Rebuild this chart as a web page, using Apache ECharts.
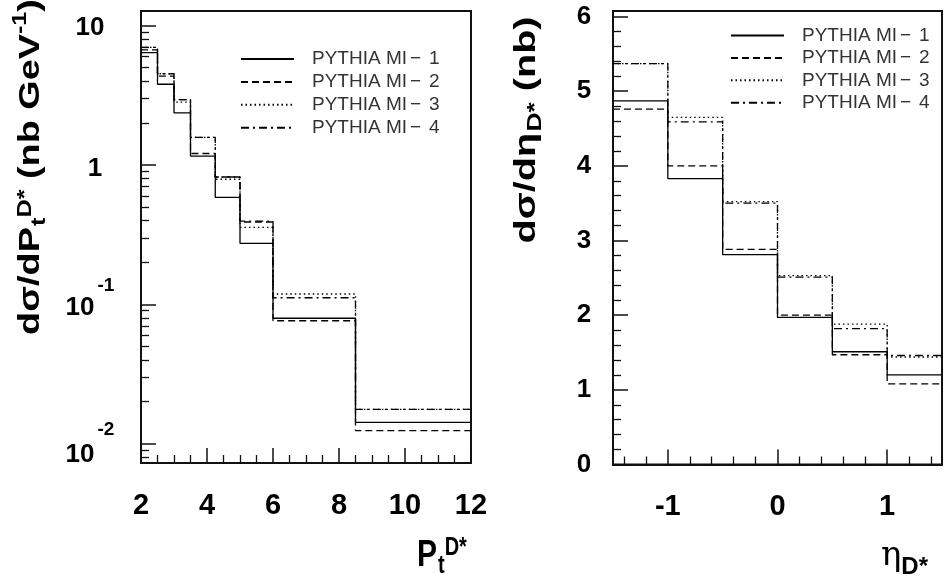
<!DOCTYPE html>
<html><head><meta charset="utf-8">
<script src="https://cdn.jsdelivr.net/npm/echarts@6/dist/echarts.min.js"></script>
<style>html,body{margin:0;padding:0;background:#fff}#c{width:946px;height:586px}</style>
</head><body><div id="c"></div>
<script>
// ---------- data ----------
const seriesNames = ['PYTHIA MI−1', 'PYTHIA MI−2', 'PYTHIA MI−3', 'PYTHIA MI−4'];

// left: dσ/dPt (nb/GeV), bin edges in Pt
const ptEdges = [2, 2.5, 3, 3.5, 4.25, 5, 6, 8.5, 12];
const ptMI1 = [6.4, 3.8, 2.37, 1.16, 0.586, 0.274, 0.0794, 0.0142];
const ptMI2 = [6.7, 4.35, 2.95, 1.21, 0.82, 0.39, 0.0762, 0.0124];
const ptMI3 = [7.0, 4.52, 2.83, 1.58, 0.79, 0.357, 0.1186, 0.0176];
const ptMI4 = [7.0, 4.52, 2.95, 1.58, 0.82, 0.396, 0.1115, 0.0176];

// right: dσ/dη (nb), bin edges in η
const etaEdges = [-1.5, -1, -0.5, 0, 0.5, 1, 1.5];
const etaMI1 = [4.87, 3.83, 2.81, 1.97, 1.51, 1.20];
const etaMI2 = [4.76, 4.00, 2.88, 2.00, 1.47, 1.08];
const etaMI3 = [5.37, 4.65, 3.52, 2.53, 1.88, 1.44];
const etaMI4 = [5.37, 4.59, 3.50, 2.51, 1.82, 1.46];

// ticks
const ptTicks = [2, 4, 6, 8, 10, 12];
const ptMinorTicks = [2.5, 3, 3.5, 4.5, 5, 5.5, 6.5, 7, 7.5, 8.5, 9, 9.5, 10.5, 11, 11.5];
const logTicks = [0.01, 0.1, 1, 10];
const logTickBase = ['10', '10', '1', '10'];
const logTickExp = ['-2', '-1', '', ''];
const logMinorTicks = [0.008, 0.009, 0.02, 0.03, 0.04, 0.05, 0.06, 0.07, 0.08, 0.09,
  0.2, 0.3, 0.4, 0.5, 0.6, 0.7, 0.8, 0.9, 2, 3, 4, 5, 6, 7, 8, 9];
const etaTicks = [-1, 0, 1];
const etaMinorTicks = [-1.4, -1.2, -0.8, -0.6, -0.4, -0.2, 0.2, 0.4, 0.6, 0.8, 1.2, 1.4];
const sigTicks = [0, 1, 2, 3, 4, 5, 6];
const sigMinorTicks = [0.2, 0.4, 0.6, 0.8, 1.2, 1.4, 1.6, 1.8, 2.2, 2.4, 2.6, 2.8, 3.2, 3.4, 3.6, 3.8,
  4.2, 4.4, 4.6, 4.8, 5.2, 5.4, 5.6, 5.8];

// ---------- chart ----------
const FONT = '"Liberation Sans", Arial, Helvetica, sans-serif';
const INK = '#111';
const lineTypes = ['solid', [7, 4], [1.5, 3], [8, 4, 2, 4]];

function stepData(edges, vals) {
  return edges.map((e, i) => [e, vals[Math.min(i, vals.length - 1)]]);
}

const ptVals = [ptMI1, ptMI2, ptMI3, ptMI4];
const etaVals = [etaMI1, etaMI2, etaMI3, etaMI4];

const series = [];
[3, 2, 1, 0].forEach(k => {
  series.push({
    name: seriesNames[k], type: 'line', step: 'end', xAxisIndex: 0, yAxisIndex: 0,
    data: stepData(ptEdges, ptVals[k]), symbol: 'none', silent: true,
    lineStyle: { color: '#000', width: 1.3, type: lineTypes[k] }, itemStyle: { color: '#000' }
  });
  series.push({
    name: seriesNames[k], type: 'line', step: 'end', xAxisIndex: 1, yAxisIndex: 1,
    data: stepData(etaEdges, etaVals[k]), symbol: 'none', silent: true,
    lineStyle: { color: '#000', width: 1.3, type: lineTypes[k] }, itemStyle: { color: '#000' }
  });
});

const majorTick = { show: true, inside: true, length: 15, lineStyle: { color: INK, width: 1.5 } };
const minorTickAx = (vals) => ({ show: true, inside: true, length: 8, customValues: vals, lineStyle: { color: INK, width: 1.3 } });
const axLine = { show: true, onZero: false, lineStyle: { color: INK, width: 2 } };
const noLine = { show: false, onZero: false };

const legendText = {
  fontSize: 19, color: '#333', fontFamily: FONT, padding: [0, 0, 0, 13], lineHeight: 14,
  rich: {
    a: { fontSize: 19, lineHeight: 14, color: '#333', fontFamily: FONT },
    m: { fontSize: 19, lineHeight: 14, color: '#333', fontFamily: FONT, padding: [0, 4, 0, 3] },
    d: { fontSize: 19, lineHeight: 14, color: '#333', fontFamily: FONT, padding: [0, 0, 0, 4] }
  }
};
const legendFmt = name => { const p = name.split('−'); return '{a|' + p[0] + '}{m|−}{d|' + p[1] + '}'; };
const legendItem = { color: 'rgba(0,0,0,0)', borderColor: 'rgba(0,0,0,0)', borderWidth: 0, opacity: 0 };

const titleRich = {
  m: { fontSize: 30, fontWeight: 'bold', fontFamily: FONT, fill: '#000', color: '#000' },
  sub: { fontSize: 20, fontWeight: 'bold', fontFamily: FONT, color: '#000', padding: [16, 0, 0, 1] },
  sup: { fontSize: 20, fontWeight: 'bold', fontFamily: FONT, color: '#000', padding: [0, 0, 12, 0] },
  sup2: { fontSize: 20, fontWeight: 'bold', fontFamily: FONT, color: '#000', padding: [0, 0, 22, 0] },
  e: { fontSize: 34, fontFamily: '"DejaVu Serif", "Liberation Serif", serif', color: '#000' },
  esub: { fontSize: 24, fontWeight: 'bold', fontFamily: FONT, color: '#000', padding: [22, 0, 0, 0] }
};

const option = {
  animation: false,
  backgroundColor: '#fff',
  grid: [
    { left: 141, top: 11, width: 330, height: 452, show: true, borderColor: INK, borderWidth: 2, backgroundColor: 'transparent' },
    { left: 613, top: 11, width: 329, height: 453.5, show: true, borderColor: INK, borderWidth: 2, backgroundColor: 'transparent' }
  ],
  xAxis: [
    { type: 'value', gridIndex: 0, position: 'bottom', min: 2, max: 12, interval: 2,
      axisLine: axLine, splitLine: { show: false },
      axisTick: Object.assign({ customValues: ptTicks }, majorTick),
      axisLabel: { customValues: ptTicks, margin: 28, fontSize: 29, fontWeight: 'bold', color: '#000', fontFamily: FONT } },
    { type: 'value', gridIndex: 1, position: 'bottom', min: -1.5, max: 1.5,
      axisLine: axLine, splitLine: { show: false },
      axisTick: Object.assign({ customValues: etaTicks }, majorTick),
      axisLabel: { customValues: etaTicks, margin: 28, fontSize: 29, fontWeight: 'bold', color: '#000', fontFamily: FONT } },
    { type: 'value', gridIndex: 0, position: 'bottom', min: 2, max: 12,
      axisLine: noLine, splitLine: { show: false }, axisLabel: { show: false },
      axisTick: minorTickAx(ptMinorTicks) },
    { type: 'value', gridIndex: 1, position: 'bottom', min: -1.5, max: 1.5,
      axisLine: noLine, splitLine: { show: false }, axisLabel: { show: false },
      axisTick: minorTickAx(etaMinorTicks) }
  ],
  yAxis: [
    { type: 'log', logBase: 10, gridIndex: 0, position: 'left', min: 0.00726, max: 12.75,
      axisLine: axLine, splitLine: { show: false },
      axisTick: Object.assign({ customValues: logTicks }, majorTick),
      axisLabel: {
        customValues: logTicks, margin: 51, align: 'center', color: '#000',
        fontSize: 26, fontWeight: 'bold', fontFamily: FONT,
        formatter: v => {
          const i = logTicks.findIndex(t => Math.abs(t - v) / t < 1e-6);
          if (i < 0) return '';
          const b = logTickBase[i], e = logTickExp[i];
          if (!e) return b === '1' ? '{one|' + b + '}' : '{ten|' + b + '}';
          return '{b' + i + '|' + b + '}{e' + i + '|' + e + '}';
        },
        rich: {
          ten: { fontSize: 26, fontWeight: 'bold', fontFamily: FONT, color: '#000', padding: [4, 0, 0, 0] },
          one: { fontSize: 26, fontWeight: 'bold', fontFamily: FONT, color: '#000', padding: [7, 0, 0, 10] },
          b0: { fontSize: 26, fontWeight: 'bold', fontFamily: FONT, color: '#000', padding: [23, 0, 0, 0] },
          e0: { fontSize: 19, fontWeight: 'bold', fontFamily: FONT, color: '#000', padding: [0, 0, 27, 3] },
          b1: { fontSize: 26, fontWeight: 'bold', fontFamily: FONT, color: '#000', padding: [8, 0, 0, 0] },
          e1: { fontSize: 19, fontWeight: 'bold', fontFamily: FONT, color: '#000', padding: [0, 0, 38, 3] }
        }
      } },
    { type: 'value', gridIndex: 1, position: 'left', min: 0, max: 6.074,
      axisLine: axLine, splitLine: { show: false },
      axisTick: Object.assign({ customValues: sigTicks }, majorTick),
      axisLabel: { customValues: sigTicks, margin: 29, align: 'center', fontSize: 26, fontWeight: 'bold', color: '#000', fontFamily: FONT } },
    { type: 'log', logBase: 10, gridIndex: 0, position: 'left', min: 0.00726, max: 12.75,
      axisLine: noLine, splitLine: { show: false }, axisLabel: { show: false },
      axisTick: minorTickAx(logMinorTicks) },
    { type: 'value', gridIndex: 1, position: 'left', min: 0, max: 6.074,
      axisLine: noLine, splitLine: { show: false }, axisLabel: { show: false },
      axisTick: minorTickAx(sigMinorTicks) }
  ],
  legend: [
    { left: 235, top: 44.5, orient: 'vertical', itemWidth: 53, itemHeight: 14, itemGap: 3.9,
      data: seriesNames, selectedMode: false, formatter: legendFmt, textStyle: legendText, itemStyle: legendItem },
    { left: 725, top: 21, orient: 'vertical', itemWidth: 53, itemHeight: 14, itemGap: 3.4,
      data: seriesNames, selectedMode: false, formatter: legendFmt, textStyle: legendText, itemStyle: legendItem }
  ],
  graphic: [
    { type: 'text', x: 31, y: 167, rotation: Math.PI / 2, scaleX: 1.26, silent: true,
      style: { text: '{m|dσ/dP}{sub|t}{sup|D*}{m| (nb GeV}{sup2|-1}{m|)}', rich: titleRich,
               align: 'center', verticalAlign: 'middle', textAlign: 'center', textVerticalAlign: 'middle' } },
    { type: 'text', x: 527, y: 130, rotation: Math.PI / 2, scaleX: 1.32, silent: true,
      style: { text: '{m|dσ/dη}{sub|D*}{m| (nb)}', rich: titleRich,
               align: 'center', verticalAlign: 'middle', textAlign: 'center', textVerticalAlign: 'middle' } },
    { type: 'text', x: 417, y: 556, scaleY: 1.25, silent: true,
      style: { text: '{m|P}{sub|t}{sup|D*}', rich: titleRich,
               align: 'left', verticalAlign: 'middle', textAlign: 'left', textVerticalAlign: 'middle' } },
    { type: 'text', x: 881, y: 556, silent: true,
      style: { text: '{e|η}{esub|D*}', rich: titleRich,
               align: 'left', verticalAlign: 'middle', textAlign: 'left', textVerticalAlign: 'middle' } }
  ],
  series: series
};

const chart = echarts.init(document.getElementById('c'), null, { renderer: 'canvas' });
chart.setOption(option);
</script>
</body></html>
